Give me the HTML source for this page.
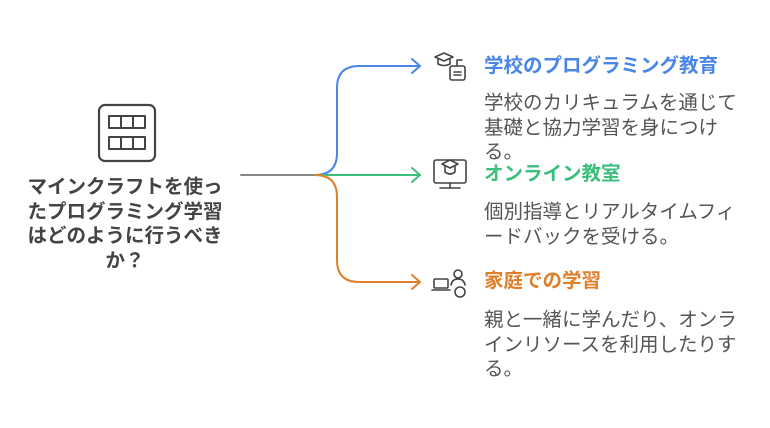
<!DOCTYPE html>
<html><head><meta charset="utf-8"><style>
body{margin:0;width:770px;height:428px;background:#fff;position:relative;overflow:hidden;font-family:"Liberation Sans","Noto Sans CJK JP",sans-serif}
.t{position:absolute;white-space:nowrap}
.h{font-weight:bold;font-size:19.5px;line-height:22px}
.d{font-size:19.5px;line-height:24.5px;color:#555}
</style></head><body>
<svg width="770" height="428" style="position:absolute;left:0;top:0" fill="none" stroke-linecap="round" stroke-linejoin="round">
<rect x="99" y="105" width="56" height="56" rx="6" stroke="#444" stroke-width="2.2"/>
<rect x="109" y="116" width="36" height="12" stroke="#444" stroke-width="2"/>
<line x1="121" y1="116" x2="121" y2="128" stroke="#444" stroke-width="2"/><line x1="133" y1="116" x2="133" y2="128" stroke="#444" stroke-width="2"/>
<rect x="109" y="137" width="36" height="12" stroke="#444" stroke-width="2"/>
<line x1="121" y1="137" x2="121" y2="149" stroke="#444" stroke-width="2"/><line x1="133" y1="137" x2="133" y2="149" stroke="#444" stroke-width="2"/>
<path d="M241 175 H315" stroke="#888" stroke-width="2"/>
<path d="M315 175 Q337 175 337 153 V88 Q337 66 359 66 H420" stroke="#4a86e8" stroke-width="2"/>
<path d="M412 59 L420 66 L412 73" stroke="#4a86e8" stroke-width="2"/>
<path d="M315 175 H420" stroke="#3cbf7d" stroke-width="2"/>
<path d="M412 168 L420 175 L412 182" stroke="#3cbf7d" stroke-width="2"/>
<path d="M315 175 Q337 175 337 197 V260 Q337 282 359 282 H420" stroke="#e07f2a" stroke-width="2"/>
<path d="M412 275 L420 282 L412 289" stroke="#e07f2a" stroke-width="2"/>
<g stroke="#444" stroke-width="1.6">
<path d="M435 57 L444 53 L453 57 L444 61 Z M438 59 V64 Q444 67 450 64 V59"/>
<rect x="450" y="66" width="15" height="14" rx="2"/><path d="M457 66 V60 H462 M454 75 H461 M454 72 H461"/>
<rect x="434" y="160" width="32" height="23" rx="2"/><path d="M440 188 H460 M450 183 V188"/>
<path d="M442 164 L450 160 L458 164 L450 168 Z M445 166 V172 Q450 176 455 172 V166"/>
<rect x="434" y="279" width="14" height="9" rx="1"/><path d="M432 290 H450"/>
<circle cx="458" cy="274" r="4"/><path d="M451 285 Q452 279 458 279 Q464 279 465 285"/>
<circle cx="460" cy="292" r="5"/>
</g>
</svg>
<div class="t" style="left:25px;top:175px;width:200px;text-align:center;font-weight:bold;font-size:19.5px;line-height:24.5px;color:#444;white-space:normal">マインクラフトを使ったプログラミング学習はどのように行うべきか？</div>
<div class="t h" style="left:484px;top:55px;color:#4a86e8">学校のプログラミング教育</div>
<div class="t d" style="left:484px;top:91px">学校のカリキュラムを通じて<br>基礎と協力学習を身につけ<br>る。</div>
<div class="t h" style="left:484px;top:163px;color:#3cbf7d">オンライン教室</div>
<div class="t d" style="left:484px;top:200px">個別指導とリアルタイムフィ<br>ードバックを受ける。</div>
<div class="t h" style="left:484px;top:270px;color:#e07f2a">家庭での学習</div>
<div class="t d" style="left:484px;top:308px">親と一緒に学んだり、オンラ<br>インリソースを利用したりす<br>る。</div>
</body></html>
